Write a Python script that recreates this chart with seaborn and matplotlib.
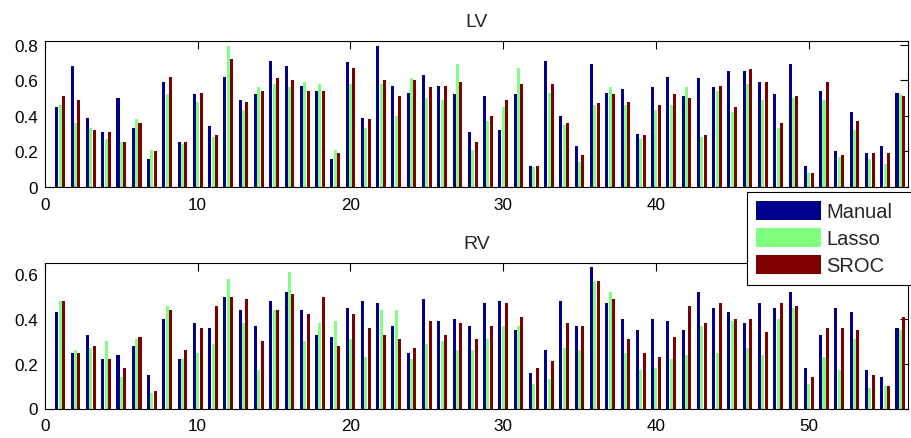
import numpy as np
import pandas as pd
import matplotlib
matplotlib.use("Agg")
import matplotlib.pyplot as plt
import seaborn as sns
from matplotlib.patches import Patch
from matplotlib.ticker import FuncFormatter

# ---------------- data ----------------
methods = ["Manual", "Lasso", "SROC"]
colors = ["#00008F", "#80FF80", "#800000"]
case_idx = list(range(1, 57))

lv_manual = [0.45, 0.68, 0.39, 0.31, 0.50, 0.33, 0.16, 0.59, 0.25, 0.52, 0.34, 0.62,
             0.49, 0.52, 0.71, 0.68, 0.57, 0.54, 0.16, 0.70, 0.39, 0.79, 0.57, 0.53, 0.63, 0.57, 0.52,
             0.31, 0.51, 0.32, 0.52, 0.12, 0.71, 0.40, 0.23, 0.69, 0.53, 0.55, 0.30, 0.56, 0.62, 0.51,
             0.61, 0.56, 0.65, 0.65, 0.59, 0.52, 0.69, 0.12, 0.54, 0.20, 0.42, 0.19, 0.23, 0.53]
lv_lasso = [0.46, 0.36, 0.33, 0.27, 0.25, 0.38, 0.21, 0.52, 0.24, 0.48, 0.28, 0.79,
            0.43, 0.56, 0.58, 0.56, 0.59, 0.58, 0.21, 0.58, 0.33, 0.58, 0.40, 0.61, 0.50, 0.49, 0.69,
            0.21, 0.37, 0.45, 0.67, 0.11, 0.53, 0.35, 0.14, 0.46, 0.56, 0.46, 0.27, 0.43, 0.46, 0.56,
            0.28, 0.54, 0.42, 0.58, 0.49, 0.33, 0.50, 0.08, 0.49, 0.17, 0.32, 0.16, 0.13, 0.52]
lv_sroc = [0.51, 0.49, 0.32, 0.31, 0.25, 0.36, 0.20, 0.62, 0.25, 0.53, 0.29, 0.72,
           0.48, 0.54, 0.61, 0.60, 0.54, 0.54, 0.19, 0.67, 0.38, 0.60, 0.51, 0.60, 0.56, 0.57, 0.59,
           0.25, 0.40, 0.49, 0.58, 0.12, 0.58, 0.36, 0.18, 0.47, 0.52, 0.48, 0.29, 0.46, 0.52, 0.50,
           0.29, 0.57, 0.45, 0.66, 0.59, 0.36, 0.51, 0.08, 0.59, 0.18, 0.37, 0.19, 0.19, 0.51]

rv_manual = [0.43, 0.25, 0.33, 0.22, 0.24, 0.28, 0.15, 0.40, 0.22, 0.38, 0.36, 0.50,
             0.44, 0.37, 0.48, 0.52, 0.44, 0.33, 0.32, 0.45, 0.48, 0.47, 0.37, 0.25, 0.49, 0.39, 0.40,
             0.37, 0.47, 0.48, 0.35, 0.16, 0.26, 0.48, 0.37, 0.63, 0.47, 0.40, 0.35, 0.40, 0.39, 0.35,
             0.52, 0.45, 0.43, 0.38, 0.47, 0.45, 0.52, 0.18, 0.33, 0.45, 0.43, 0.17, 0.14, 0.36]
rv_lasso = [0.48, 0.26, 0.27, 0.30, 0.14, 0.31, 0.07, 0.46, 0.22, 0.25, 0.29, 0.58,
            0.38, 0.17, 0.44, 0.61, 0.30, 0.38, 0.39, 0.31, 0.23, 0.44, 0.44, 0.22, 0.29, 0.30, 0.26,
            0.26, 0.31, 0.37, 0.37, 0.11, 0.13, 0.27, 0.26, 0.57, 0.52, 0.25, 0.17, 0.18, 0.22, 0.24,
            0.37, 0.25, 0.39, 0.27, 0.24, 0.40, 0.45, 0.11, 0.23, 0.17, 0.31, 0.09, 0.10, 0.35]
rv_sroc = [0.48, 0.25, 0.28, 0.22, 0.18, 0.32, 0.08, 0.44, 0.26, 0.36, 0.46, 0.50,
           0.49, 0.30, 0.44, 0.51, 0.42, 0.50, 0.28, 0.42, 0.36, 0.33, 0.31, 0.27, 0.39, 0.33, 0.38,
           0.31, 0.37, 0.47, 0.41, 0.18, 0.21, 0.38, 0.37, 0.57, 0.49, 0.31, 0.25, 0.23, 0.32, 0.46,
           0.38, 0.47, 0.40, 0.40, 0.34, 0.47, 0.46, 0.14, 0.36, 0.36, 0.35, 0.15, 0.10, 0.41]

x_ticks = [0, 10, 20, 30, 40, 50]
lv_yticks = [0, 0.2, 0.4, 0.6, 0.8]
rv_yticks = [0, 0.2, 0.4, 0.6]


def long_df(m, l, s):
    frames = []
    for name, vals in zip(methods, [m, l, s]):
        frames.append(pd.DataFrame({"idx": case_idx, "value": vals, "method": name}))
    return pd.concat(frames, ignore_index=True)


# ---------------- figure ----------------
sns.set_style("white")
plt.rcParams["font.family"] = ["Liberation Sans", "DejaVu Sans"]

W, H = 911, 439
fig = plt.figure(figsize=(W / 100, H / 100), dpi=100)
ax1 = fig.add_axes([45 / W, 1 - 188 / H, 863 / W, 146 / H])
ax2 = fig.add_axes([45 / W, 1 - 409.5 / H, 863 / W, 145.5 / H])

panels = [
    (ax1, long_df(lv_manual, lv_lasso, lv_sroc), "LV", (0, 0.82), lv_yticks),
    (ax2, long_df(rv_manual, rv_lasso, rv_sroc), "RV", (0, 0.65), rv_yticks),
]

for ax, df, title, ylim, yticks in panels:
    sns.barplot(data=df, x="idx", y="value", hue="method", hue_order=methods,
                palette=colors, native_scale=True, width=0.66, gap=0.1,
                dodge=True, errorbar=None, saturation=1, linewidth=0,
                legend=False, ax=ax)
    ax.set_xlim(0, 56.5)
    ax.set_ylim(*ylim)
    ax.set_xticks(x_ticks)
    ax.set_yticks(yticks)
    ax.xaxis.set_major_formatter(FuncFormatter(lambda v, p: f"{v:g}"))
    ax.yaxis.set_major_formatter(FuncFormatter(lambda v, p: f"{v:g}"))
    ax.tick_params(direction="in", top=True, right=True, length=6, width=0.8,
                   labelsize=12.3, colors="black")
    ax.tick_params(axis="x", pad=7)
    ax.tick_params(axis="y", pad=5)
    ax.set_xlabel("")
    ax.set_ylabel("")
    ax.set_title(title, fontsize=14, pad=11)
    for sp in ax.spines.values():
        sp.set_visible(True)
        sp.set_color("black")
        sp.set_linewidth(0.8)

handles = [Patch(facecolor=c, edgecolor="none") for c in colors]
leg = fig.legend(handles, methods, loc="upper left",
                 bbox_to_anchor=(747 / W, 1 - 193 / H, 180 / W, 0.001),
                 mode="expand", borderaxespad=0,
                 fontsize=14.5, handlelength=3.2, handleheight=1.1,
                 handletextpad=0.3, labelspacing=0.33, borderpad=0.45,
                 frameon=True, fancybox=False, framealpha=1, edgecolor="black")
leg.get_frame().set_linewidth(0.8)

fig.savefig("out.png", dpi=100)
